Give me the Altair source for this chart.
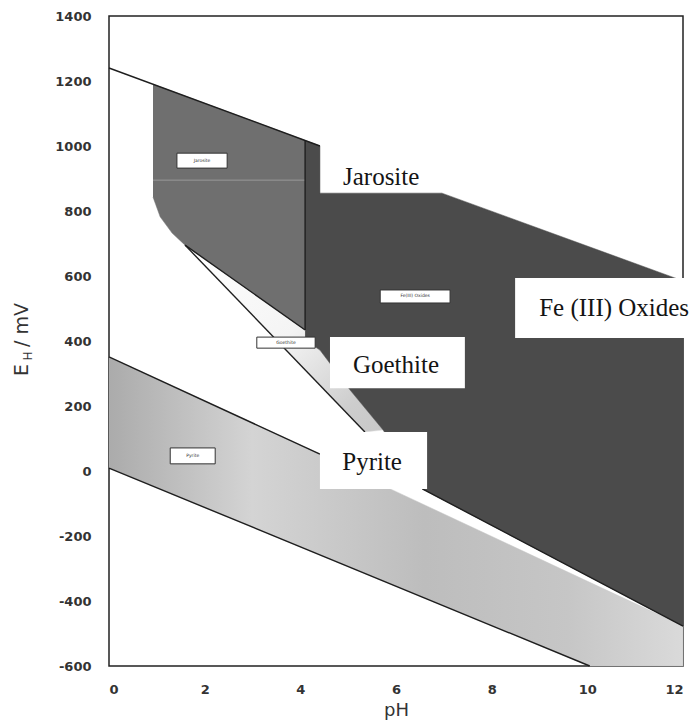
import altair as alt
import pandas as pd

# ---- region outlines (pH, E_H in mV) ----
jarosite_ph = [0.92, 4.10, 4.10, 1.59, 1.32, 1.07, 0.92]
jarosite_e = [1190, 1017, 434, 695, 732, 782, 843]

feox_ph = [4.10, 4.41, 4.41, 6.96, 12.0, 12.0, 6.55, 5.73, 5.04, 4.41, 4.10]
feox_e = [1017, 1000, 855, 855, 585, -477, -55, 126, 249, 372, 403]

goethite_ph = [1.59, 4.10, 4.10, 4.41, 5.04, 5.73, 5.35]
goethite_e = [695, 434, 403, 372, 249, 126, 120]

pyrite_ph = [0.0, 4.41, 4.41, 5.88, 12.0, 12.0, 10.05, 0.0]
pyrite_e = [351, 52, -55, -55, -477, -600, -600, 9]

# ---- boundary lines ----
line_ids = ["water_upper", "water_upper", "pyrite_upper", "pyrite_upper",
            "water_lower", "water_lower", "goethite_b", "goethite_b",
            "jarosite_low", "jarosite_low", "jarosite_vert", "jarosite_vert",
            "feox_low", "feox_low"]
line_ph = [0.0, 4.41, 0.0, 4.41, 0.0, 10.05, 1.59, 5.35, 1.59, 4.10, 4.10, 4.10,
           6.55, 12.0]
line_e = [1240, 1000, 351, 52, 9, -600, 695, 120, 695, 434, 1017, 434,
          -55, -477]

faint_ph = [0.92, 4.10]
faint_e = [895, 895]

# ---- big labels ----
label_text = ["Jarosite", "Goethite", "Pyrite", "Fe (III) Oxides"]
label_ph = [5.69, 6.00, 5.50, 10.56]
label_e = [905, 326, 28, 502]

box_ph1 = [4.62, 4.41, 8.49]
box_ph2 = [7.44, 6.65, 12.36]
box_e1 = [412, 120, 594]
box_e2 = [255, -55, 409]

# ---- small in-region tags ----
tag_text = ["Jarosite", "Goethite", "Fe(III) Oxides", "Pyrite"]
tag_ph1 = [1.42, 3.09, 5.67, 1.28]
tag_ph2 = [2.47, 4.31, 7.13, 2.22]
tag_e1 = [978, 412, 557, 71]
tag_e2 = [932, 378, 517, 22]

x_ticks = [0, 2, 4, 6, 8, 10, 12]
y_ticks = [-600, -400, -200, 0, 200, 400, 600, 800, 1000, 1200, 1400]

xs = alt.Scale(domain=[0, 12], nice=False, zero=False)
ys = alt.Scale(domain=[-600, 1400], nice=False, zero=False)

x_axis = alt.Axis(values=x_ticks, grid=False, ticks=False, domain=False,
                  labelExpr="toString(datum.value)",
                  labelFont="DejaVu Sans", labelFontSize=13, labelFontWeight="bold",
                  labelColor="#333333", labelPadding=17, title="pH",
                  titleFont="DejaVu Sans", titleFontSize=18, titleFontWeight="normal",
                  titleColor="#333333", titlePadding=5)
y_axis = alt.Axis(values=y_ticks, grid=False, ticks=False, domain=False,
                  labelExpr="toString(datum.value)",
                  labelFont="DejaVu Sans", labelFontSize=13, labelFontWeight="bold",
                  labelColor="#333333", labelPadding=18, title=None)


def X(field="pH"):
    return alt.X(f"{field}:Q", scale=xs, axis=x_axis)


def Y(field="E"):
    return alt.Y(f"{field}:Q", scale=ys, axis=y_axis)


def poly_df(phs, es):
    return pd.DataFrame({"pH": phs, "E": es, "i": list(range(len(phs)))})


def poly_layer(phs, es, fill, stroke):
    return alt.Chart(poly_df(phs, es)).mark_line(
        fill=fill, stroke=stroke, strokeWidth=0.5, interpolate="linear"
    ).encode(x=X(), y=Y(), order="i:Q")


pyrite_fill = alt.Gradient(
    gradient="linear", x1=0, y1=0, x2=1, y2=0,
    stops=[alt.GradientStop(color="#ababab", offset=0),
           alt.GradientStop(color="#d4d4d4", offset=0.25),
           alt.GradientStop(color="#bdbdbd", offset=0.55),
           alt.GradientStop(color="#c6c6c6", offset=0.8),
           alt.GradientStop(color="#dadada", offset=1)])
goethite_fill = alt.Gradient(
    gradient="linear", x1=0, y1=0, x2=1, y2=1,
    stops=[alt.GradientStop(color="#ffffff", offset=0),
           alt.GradientStop(color="#f4f4f4", offset=0.5),
           alt.GradientStop(color="#cdcdcd", offset=0.85),
           alt.GradientStop(color="#c8c8c8", offset=1)])

pyrite = poly_layer(pyrite_ph, pyrite_e, pyrite_fill, "#c4c4c4")
goethite = poly_layer(goethite_ph, goethite_e, goethite_fill, "#e0e0e0")
jarosite = poly_layer(jarosite_ph, jarosite_e, "#6f6f6f", "#6f6f6f")
feox = poly_layer(feox_ph, feox_e, "#4b4b4b", "#4b4b4b")

faint = alt.Chart(pd.DataFrame({"pH": faint_ph, "E": faint_e})).mark_line(
    color="#9a9a9a", strokeWidth=1
).encode(x=X(), y=Y())

lines_df = pd.DataFrame({"id": line_ids, "pH": line_ph, "E": line_e,
                         "i": list(range(len(line_ids)))})
lines = alt.Chart(lines_df).mark_line(color="#1e1e1e", strokeWidth=1.4).encode(
    x=X(), y=Y(), detail="id:N", order="i:Q"
)

box_df = pd.DataFrame({"x1": box_ph1, "x2": box_ph2, "y1": box_e1, "y2": box_e2})
boxes = alt.Chart(box_df).mark_rect(fill="white").encode(
    x=X("x1"), x2="x2:Q", y=Y("y1"), y2="y2:Q"
)

tag_df = pd.DataFrame({"t": tag_text, "x1": tag_ph1, "x2": tag_ph2, "y1": tag_e1, "y2": tag_e2})
tag_df["xm"] = (tag_df["x1"] + tag_df["x2"]) / 2
tag_df["ym"] = (tag_df["y1"] + tag_df["y2"]) / 2
tags = alt.Chart(tag_df).mark_rect(fill="white", stroke="#333333", strokeWidth=1).encode(
    x=X("x1"), x2="x2:Q", y=Y("y1"), y2="y2:Q"
)
tag_text_layer = alt.Chart(tag_df).mark_text(
    font="DejaVu Sans", fontSize=4.5, color="#333333"
).encode(x=X("xm"), y=Y("ym"), text="t:N")

lab_df = pd.DataFrame({"t": label_text, "pH": label_ph, "E": label_e})
labels = alt.Chart(lab_df).mark_text(
    font="Liberation Serif", fontSize=25, color="#141414", align="center", baseline="middle"
).encode(x=X(), y=Y(), text="t:N")

# y-axis title  E_H / mV  (rotated, with subscript)
ttl_E = alt.Chart(pd.DataFrame({"t": ["E"]})).mark_text(
    font="DejaVu Sans", fontSize=19, angle=270, color="#333333", align="center", baseline="middle"
).encode(x=alt.value(-87), y=alt.value(354), text="t:N")
ttl_H = alt.Chart(pd.DataFrame({"t": ["H"]})).mark_text(
    font="DejaVu Sans", fontSize=12, angle=270, color="#333333", align="center", baseline="middle"
).encode(x=alt.value(-81), y=alt.value(340), text="t:N")
ttl_rest = alt.Chart(pd.DataFrame({"t": ["/ mV"]})).mark_text(
    font="DejaVu Sans", fontSize=19, angle=270, color="#333333", align="center", baseline="middle"
).encode(x=alt.value(-87), y=alt.value(309), text="t:N")

chart = alt.layer(
    pyrite, goethite, jarosite, feox, faint, lines, boxes, tags, tag_text_layer,
    labels, ttl_E, ttl_H, ttl_rest
).properties(
    width=574, height=650,
    autosize=alt.AutoSizeParams(type="none"),
    padding={"left": 109, "top": 16, "right": 12, "bottom": 58},
    background="white",
).configure_view(stroke="#222222", strokeWidth=1.5)

chart.save("out.html", embed_options={"renderer": "svg", "actions": False})
